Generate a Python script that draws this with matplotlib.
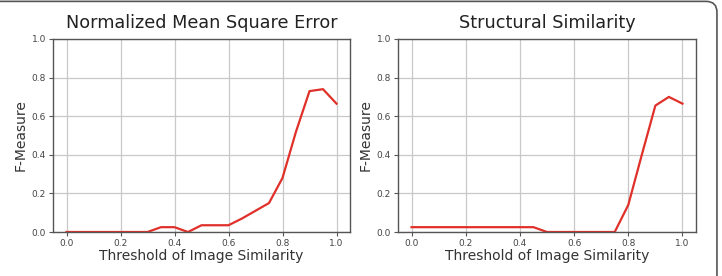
import matplotlib
matplotlib.use("Agg")
import matplotlib.pyplot as plt
from matplotlib.patches import FancyBboxPatch

thresholds = [0.0, 0.05, 0.1, 0.15, 0.2, 0.25, 0.3, 0.35, 0.4, 0.45, 0.5,
              0.55, 0.6, 0.65, 0.7, 0.75, 0.8, 0.85, 0.9, 0.95, 1.0]
nmse_f = [0.0, 0.0, 0.0, 0.0, 0.0, 0.0, 0.0, 0.025, 0.025, 0.0, 0.035,
          0.035, 0.035, 0.07, 0.11, 0.15, 0.28, 0.52, 0.73, 0.74, 0.665]
ssim_f = [0.025, 0.025, 0.025, 0.025, 0.025, 0.025, 0.025, 0.025, 0.025, 0.025, 0.0,
          0.0, 0.0, 0.0, 0.0, 0.0, 0.14, 0.40, 0.655, 0.70, 0.665]
titles = ["Normalized Mean Square Error", "Structural Similarity"]
xticks = [0.0, 0.2, 0.4, 0.6, 0.8, 1.0]
yticks = [0.0, 0.2, 0.4, 0.6, 0.8, 1.0]

fig = plt.figure(figsize=(7.22, 2.76), dpi=100)
axes = [fig.add_axes([53 / 722, 44 / 276, 297 / 722, 193 / 276]),
        fig.add_axes([398 / 722, 44 / 276, 298 / 722, 193 / 276])]

for ax, title, values in zip(axes, titles, [nmse_f, ssim_f]):
    ax.plot(thresholds, values, color="#e0302a", linewidth=1.6)
    ax.set_xlim(-0.05, 1.05)
    ax.set_ylim(0.0, 1.0)
    ax.set_xticks(xticks)
    ax.set_yticks(yticks)
    ax.set_xticklabels([f"{t:.1f}" for t in xticks], fontsize=6.5, color="#444444")
    ax.set_yticklabels([f"{t:.1f}" for t in yticks], fontsize=6.5, color="#444444")
    ax.tick_params(length=3, color="#555555", pad=2)
    ax.grid(True, color="#c8c8c8", linewidth=0.9)
    ax.set_axisbelow(True)
    for sp in ax.spines.values():
        sp.set_color("#555555")
        sp.set_linewidth(1.0)
    ax.set_title(title, fontsize=12.7, color="#222222", pad=8)
    ax.set_xlabel("Threshold of Image Similarity", fontsize=10, color="#333333", labelpad=1)
    ax.set_ylabel("F-Measure", fontsize=10, color="#333333", labelpad=3)

# frame: only the top and right edges show, rounded top-right corner
frame = FancyBboxPatch((-0.02, -0.1), 1.013, 1.095, boxstyle="round,pad=0,rounding_size=0.015",
                       transform=fig.transFigure, fill=False, edgecolor="#555555",
                       linewidth=1.2, mutation_aspect=722 / 276)
fig.patches.append(frame)

fig.savefig("out.png", dpi=100)
plt.close(fig)
